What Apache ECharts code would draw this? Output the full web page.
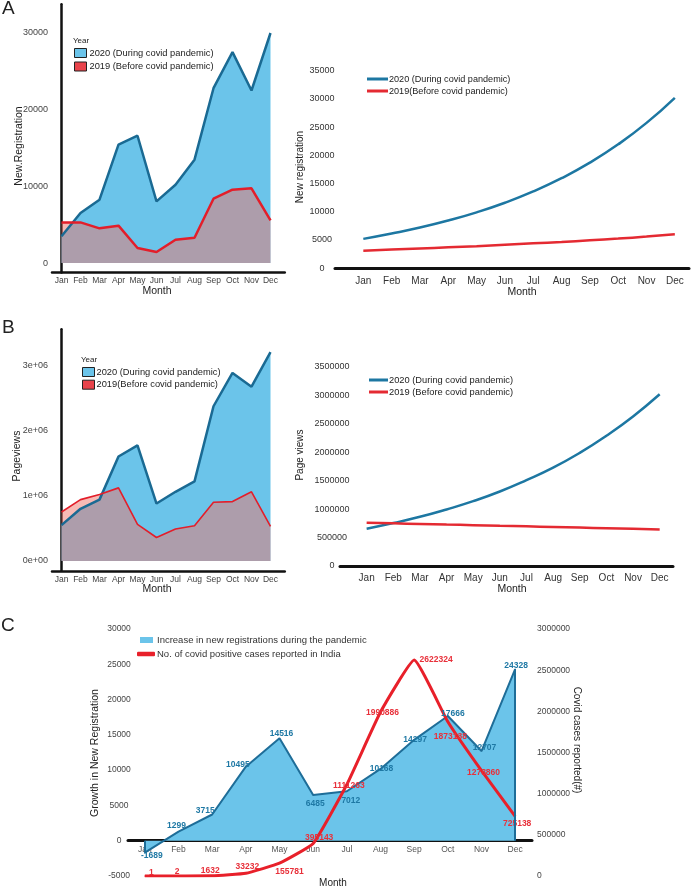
<!DOCTYPE html>
<html><head><meta charset="utf-8">
<script src="https://cdn.jsdelivr.net/npm/echarts@6/dist/echarts.min.js"></script>
<style>html,body{margin:0;padding:0;background:#fff}#c{width:692px;height:888px}</style>
</head><body><div id="c"></div>
<script>
const months = ['Jan','Feb','Mar','Apr','May','Jun','Jul','Aug','Sep','Oct','Nov','Dec'];
// Panel A (left): monthly new registrations
const reg2020 = [3480, 6520, 8260, 15430, 16600, 8040, 10200, 13480, 22800, 27500, 22500, 30000];
const reg2019 = [5300, 5300, 4520, 4870, 1960, 1430, 3040, 3300, 8390, 9570, 9740, 5570];
// Panel A (right): fitted trend of new registrations
const regTrend2020 = [5200, 6150, 7200, 8450, 9900, 11600, 13600, 15950, 18700, 21950, 25750, 30200];
const regTrend2019 = [3100, 3300, 3500, 3700, 3900, 4150, 4400, 4650, 4950, 5250, 5600, 6000];
// Panel B (left): monthly pageviews
const pv2020 = [550000, 800000, 940000, 1600000, 1770000, 880000, 1060000, 1220000, 2370000, 2880000, 2670000, 3200000];
const pv2019 = [750000, 940000, 1020000, 1120000, 560000, 360000, 490000, 540000, 900000, 910000, 1060000, 530000];
// Panel B (right): fitted trend of pageviews
const pvTrend2020 = [655000, 755000, 865000, 995000, 1140000, 1310000, 1510000, 1730000, 1990000, 2290000, 2630000, 3020000];
const pvTrend2019 = [760000, 750000, 740000, 729000, 718000, 707000, 697000, 686000, 675000, 664000, 654000, 644000];
// Panel C
const regGrowth = [-1689, 1299, 3715, 10495, 14516, 6485, 7012, 10168, 14297, 17666, 12707, 24328];
const covidCases = [1, 2, 1632, 33232, 155781, 395143, 1111263, 1990886, 2622324, 1873138, 1278860, 725138];

const name20 = '2020 (During covid pandemic)';
const name19a = '2019 (Before covid pandemic)';
const name19b = '2019(Before covid pandemic)';
const nameGrowth = 'Increase in new registrations during the pandemic';
const nameCases = 'No. of covid positive cases reported in India';

// label offsets (style only)
const growthOff = [[7,3],[-2,-6],[-7,-4],[-8,-2],[2,-5],[2,9],[4,9.5],[1,0],[1,0],[5,-2],[3,-3],[1,-3]];
const casesOff = [[6.5,-3.5],[-1.5,-4],[-2,-5],[1.5,-7],[10,8],[6,-6],[2,1],[2,1],[22,0],[2.5,15],[2,2],[2,7.5]];

const F = 'Liberation Sans, Arial, sans-serif';
const FN = '"Liberation Sans Narrow", "Liberation Sans", Arial, sans-serif';
const blueFill = '#6BC4EA';
const blueLine = '#1A6A93';
const redLine = '#E31E2A';
const overlay = 'rgba(240,118,108,0.5)';
const idx = arr => arr.map((v, i) => [i, v]);
const monthLabel = v => (Number.isInteger(v) && v >= 0 && v < 12) ? months[v] : '';
const plain = v => String(v);

const chart = echarts.init(document.getElementById('c'), null, {renderer: 'canvas', width: 692, height: 888});

const noSplit = {show: false};
const noTick = {show: false};

function txt(x, y, text, size, opts) {
  return Object.assign({
    type: 'text', x: x, y: y, silent: true,
    style: {text: text, fontSize: size, fontFamily: F, fill: '#222', textAlign: 'center', textVerticalAlign: 'middle'}
  }, opts || {});
}
function ltxt(x, y, text, size) {
  return {type: 'text', x: x, y: y, silent: true,
    style: {text: text, fontSize: size, fontFamily: F, fill: '#222', textAlign: 'left', textVerticalAlign: 'middle'}};
}

const option = {
  animation: false,
  grid: [
    {left: 52, top: 4.25, width: 232.75, height: 268.35},
    {left: 335, top: 70.7, width: 355, height: 197.5},
    {left: 52, top: 329.2, width: 232.75, height: 241.6},
    {left: 340, top: 367, width: 333, height: 199},
    {left: 128, top: 629, width: 404, height: 247}
  ],
  xAxis: [
    {gridIndex: 0, type: 'value', min: -0.5, max: 11.75, interval: 0.25,
      axisLine: {onZero: false, lineStyle: {color: '#111', width: 2.5}}, axisTick: noTick, splitLine: noSplit,
      axisLabel: {formatter: monthLabel, margin: 4, fontSize: 8.5, color: '#444', fontFamily: FN}},
    {gridIndex: 1, type: 'value', min: -1, max: 11.5, interval: 0.5,
      axisLine: {onZero: false, lineStyle: {color: '#111', width: 3}}, axisTick: noTick, splitLine: noSplit,
      axisLabel: {formatter: monthLabel, margin: 8, fontSize: 10, color: '#333', fontFamily: F}},
    {gridIndex: 2, type: 'value', min: -0.5, max: 11.75, interval: 0.25,
      axisLine: {onZero: false, lineStyle: {color: '#111', width: 2.5}}, axisTick: noTick, splitLine: noSplit,
      axisLabel: {formatter: monthLabel, margin: 4, fontSize: 8.5, color: '#444', fontFamily: FN}},
    {gridIndex: 3, type: 'value', min: -1, max: 11.5, interval: 0.5,
      axisLine: {onZero: false, lineStyle: {color: '#111', width: 3}}, axisTick: noTick, splitLine: noSplit,
      axisLabel: {formatter: monthLabel, margin: 7, fontSize: 10, color: '#333', fontFamily: F}},
    {gridIndex: 4, type: 'category', data: months, boundaryGap: true, offset: -35.3,
      axisLine: {onZero: false, lineStyle: {color: '#111', width: 3}}, axisTick: noTick, splitLine: noSplit,
      axisLabel: {margin: 4, fontSize: 8.5, color: '#555', fontFamily: F}}
  ],
  yAxis: [
    {gridIndex: 0, type: 'value', min: -1250, max: 33750, interval: 1250,
      axisLine: {show: true, lineStyle: {color: '#111', width: 2.5}}, axisTick: noTick, splitLine: noSplit,
      axisLabel: {formatter: v => (v % 10000 === 0 && v >= 0) ? String(v) : '', margin: 4, fontSize: 9, color: '#444', fontFamily: F}},
    {gridIndex: 1, type: 'value', min: 0, max: 35000, interval: 5000,
      axisLine: {show: false}, axisTick: noTick, splitLine: noSplit,
      axisLabel: {formatter: plain, align: 'center', margin: 13, fontSize: 9, color: '#333', fontFamily: F}},
    {gridIndex: 2, type: 'value', min: -150000, max: 3550000, interval: 50000,
      axisLine: {show: true, lineStyle: {color: '#111', width: 2.5}}, axisTick: noTick, splitLine: noSplit,
      axisLabel: {formatter: v => v === 0 ? '0e+00' : (v > 0 && v % 1000000 === 0 ? (v / 1000000) + 'e+06' : ''), margin: 4, fontSize: 9, color: '#444', fontFamily: F}},
    {gridIndex: 3, type: 'value', min: 0, max: 3500000, interval: 500000,
      axisLine: {show: false}, axisTick: noTick, splitLine: noSplit,
      axisLabel: {formatter: plain, align: 'center', margin: 8, fontSize: 9, color: '#333', fontFamily: F}},
    {gridIndex: 4, type: 'value', min: -5000, max: 30000, interval: 5000, position: 'left',
      axisLine: {show: false}, axisTick: noTick, splitLine: noSplit,
      axisLabel: {formatter: plain, align: 'center', margin: 9, fontSize: 8.5, color: '#444', fontFamily: F}},
    {gridIndex: 4, type: 'value', min: 0, max: 3000000, interval: 500000, position: 'right',
      axisLine: {show: false}, axisTick: noTick, splitLine: noSplit,
      axisLabel: {formatter: plain, align: 'left', margin: 5, fontSize: 8.5, color: '#444', fontFamily: F}}
  ],
  legend: [
    {left: 74, top: 48, padding: 0, orient: 'vertical', selectedMode: false, itemWidth: 12, itemHeight: 9, itemGap: 3.5,
      textStyle: {fontSize: 9.3, color: '#222', fontFamily: F, lineHeight: 10, padding: [0, 0, 0, -2]},
      data: [
        {name: name20, icon: 'rect', itemStyle: {color: blueFill, borderColor: '#222', borderWidth: 1}},
        {name: name19a, icon: 'rect', itemStyle: {color: '#E8434B', borderColor: '#222', borderWidth: 1}}
      ]},
    {left: 367, top: 73, padding: 0, orient: 'vertical', selectedMode: false, itemWidth: 21, itemHeight: 3, itemGap: 0,
      textStyle: {fontSize: 9.1, color: '#222', fontFamily: F, lineHeight: 12, padding: [0, 0, 0, -4]},
      data: [
        {name: name20, icon: 'rect', itemStyle: {color: '#1D77A2', borderWidth: 0}},
        {name: name19b, icon: 'rect', itemStyle: {color: '#E42A32', borderWidth: 0}}
      ]},
    {left: 82, top: 367, padding: 0, orient: 'vertical', selectedMode: false, itemWidth: 12, itemHeight: 9, itemGap: 2.7,
      textStyle: {fontSize: 9.3, color: '#222', fontFamily: F, lineHeight: 10, padding: [0, 0, 0, -3]},
      data: [
        {name: name20, icon: 'rect', itemStyle: {color: blueFill, borderColor: '#222', borderWidth: 1}},
        {name: name19b, icon: 'rect', itemStyle: {color: '#E8434B', borderColor: '#222', borderWidth: 1}}
      ]},
    {left: 369, top: 374, padding: 0, orient: 'vertical', selectedMode: false, itemWidth: 19, itemHeight: 3, itemGap: 0,
      textStyle: {fontSize: 9.3, color: '#222', fontFamily: F, lineHeight: 12, padding: [0, 0, 0, -4]},
      data: [
        {name: name20, icon: 'rect', itemStyle: {color: '#1D77A2', borderWidth: 0}},
        {name: name19a, icon: 'rect', itemStyle: {color: '#E42A32', borderWidth: 0}}
      ]},
    {left: 140, top: 634, padding: 0, selectedMode: false, itemWidth: 13, itemHeight: 6,
      textStyle: {fontSize: 9.5, color: '#333', fontFamily: F, lineHeight: 12, padding: [0, 0, 0, -1]},
      data: [{name: nameGrowth, icon: 'rect', itemStyle: {color: blueFill, borderWidth: 0}}]},
    {left: 137, top: 648, padding: 0, selectedMode: false, itemWidth: 18, itemHeight: 4.5,
      textStyle: {fontSize: 9.5, color: '#333', fontFamily: F, lineHeight: 12, padding: [0, 0, 0, -3]},
      data: [{name: nameCases, icon: 'roundRect', itemStyle: {color: '#E8202A', borderWidth: 0}}]}
  ],
  series: [
    // A left
    {name: name20, type: 'line', xAxisIndex: 0, yAxisIndex: 0, data: idx(reg2020), symbol: 'none',
      lineStyle: {color: blueLine, width: 2.5}, itemStyle: {color: blueFill}, areaStyle: {color: blueFill, opacity: 1}},
    {name: name19a, type: 'line', xAxisIndex: 0, yAxisIndex: 0, data: idx(reg2019), symbol: 'none',
      lineStyle: {color: redLine, width: 2.5}, itemStyle: {color: redLine}, areaStyle: {color: overlay, opacity: 1}},
    // A right
    {name: name20, type: 'line', xAxisIndex: 1, yAxisIndex: 1, data: idx(regTrend2020), symbol: 'none', smooth: true,
      lineStyle: {color: '#1D77A2', width: 2.5}},
    {name: name19b, type: 'line', xAxisIndex: 1, yAxisIndex: 1, data: idx(regTrend2019), symbol: 'none', smooth: true,
      lineStyle: {color: '#E42A32', width: 2.5}},
    // B left
    {name: name20, type: 'line', xAxisIndex: 2, yAxisIndex: 2, data: idx(pv2020), symbol: 'none',
      lineStyle: {color: blueLine, width: 2.5}, areaStyle: {color: blueFill, opacity: 1}},
    {name: name19b, type: 'line', xAxisIndex: 2, yAxisIndex: 2, data: idx(pv2019), symbol: 'none',
      lineStyle: {color: redLine, width: 1.6}, areaStyle: {color: overlay, opacity: 1}},
    // B right
    {name: name20, type: 'line', xAxisIndex: 3, yAxisIndex: 3, data: idx(pvTrend2020), symbol: 'none', smooth: true,
      lineStyle: {color: '#1D77A2', width: 2.5}},
    {name: name19a, type: 'line', xAxisIndex: 3, yAxisIndex: 3, data: idx(pvTrend2019), symbol: 'none', smooth: true,
      lineStyle: {color: '#E42A32', width: 2.5}},
    // C
    {name: nameGrowth, type: 'line', xAxisIndex: 4, yAxisIndex: 4,
      data: regGrowth.map((v, i) => ({value: v, label: {offset: growthOff[i]}})),
      symbol: 'circle', symbolSize: 1, itemStyle: {color: '#1E6D98'},
      lineStyle: {color: '#1E6D98', width: 2}, areaStyle: {color: blueFill, opacity: 1},
      label: {show: true, position: 'inside', align: 'center', verticalAlign: 'middle', fontSize: 8.5, fontWeight: 'bold', color: '#1E78A4', fontFamily: F},
      markLine: {silent: true, symbol: ['none', 'none'], label: {show: false}, lineStyle: {color: '#1E6D98', width: 2, type: 'solid'},
        data: [
          [{coord: [months[0], 0]}, {coord: [months[0], regGrowth[0]]}],
          [{coord: [months[11], 0]}, {coord: [months[11], regGrowth[11]]}]
        ]}},
    {name: nameCases, type: 'line', xAxisIndex: 4, yAxisIndex: 5,
      data: covidCases.map((v, i) => ({value: v, label: {offset: casesOff[i]}})),
      symbol: 'circle', symbolSize: 1, smooth: 0.12, itemStyle: {color: '#E8202A'},
      lineStyle: {color: '#E8202A', width: 3},
      label: {show: true, position: 'inside', align: 'center', verticalAlign: 'middle', fontSize: 8.5, fontWeight: 'bold', color: '#E8303A', fontFamily: F}}
  ],
  graphic: [
    ltxt(2, 9, 'A', 19),
    ltxt(73, 41, 'Year', 8),
    txt(19, 146, 'New.Registration', 10.5, {rotation: Math.PI / 2}),
    txt(157, 291, 'Month', 10.5),
    txt(300, 167, 'New registration', 10, {rotation: Math.PI / 2}),
    txt(522, 292, 'Month', 10.5),
    ltxt(2, 328, 'B', 19),
    ltxt(81, 360, 'Year', 8),
    txt(17.5, 456, 'Pageviews', 10.5, {rotation: Math.PI / 2}),
    txt(157, 589, 'Month', 10.5),
    txt(300, 455, 'Page views', 10, {rotation: Math.PI / 2}),
    txt(512, 589, 'Month', 10.5),
    ltxt(1, 626, 'C', 19),
    txt(95, 753, 'Growth in New Registration', 10.5, {rotation: Math.PI / 2}),
    txt(577, 740, 'Covid cases reported(#)', 10, {rotation: -Math.PI / 2}),
    txt(333, 883, 'Month', 10)
  ]
};
chart.setOption(option);
</script>
</body></html>
